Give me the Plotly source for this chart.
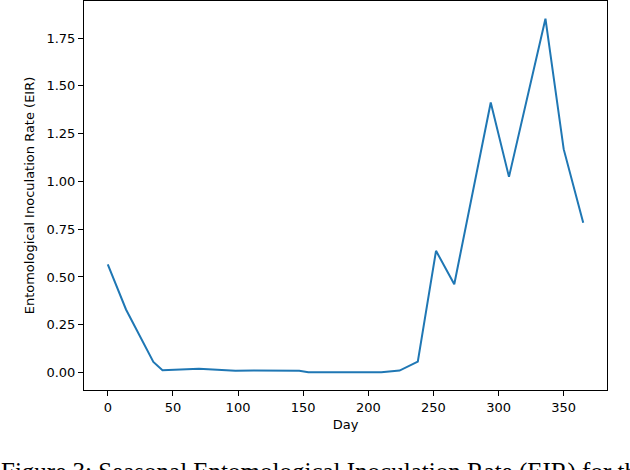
import plotly.graph_objects as go

# Seasonal EIR by day of year
DAYS = [0, 14, 35, 42, 70, 98, 112, 147, 154, 210, 224, 238,
        252, 266, 294, 308, 336, 350, 365]
EIR = [0.566, 0.330, 0.055, 0.012, 0.020, 0.009, 0.011, 0.009, 0.001, 0.002,
       0.010, 0.057, 0.637, 0.462, 1.413, 1.024, 1.852, 1.169, 0.784]

X_TICKS = [0, 50, 100, 150, 200, 250, 300, 350]
Y_TICKS = [0.0, 0.25, 0.5, 0.75, 1.0, 1.25, 1.5, 1.75]
CAPTION = "Figure 3: Seasonal Entomological Inoculation Rate (EIR) for the"

FONT = "DejaVu Sans"

fig = go.Figure()

fig.add_trace(go.Scatter(
    x=DAYS,
    y=EIR,
    mode="lines",
    line=dict(color="#1f77b4", width=2),
    showlegend=False,
))

# matplotlib-style 5% margins
xmin, xmax = min(DAYS), max(DAYS)
ymin, ymax = min(EIR), max(EIR)
xpad = (xmax - xmin) * 0.05
ypad = (ymax - ymin) * 0.05

axis_common = dict(
    showline=True, linecolor="black", linewidth=1, mirror=True,
    ticks="outside", ticklen=5, tickwidth=1, tickcolor="black",
    showgrid=False, zeroline=False,
    tickfont=dict(family=FONT, size=13, color="black"),
)

fig.update_xaxes(
    range=[xmin - xpad, xmax + xpad],
    tickvals=X_TICKS,
    title=dict(text="Day", font=dict(family=FONT, size=13, color="black"), standoff=6),
    **axis_common,
)
fig.update_yaxes(
    range=[ymin - ypad, ymax + ypad],
    tickvals=Y_TICKS,
    tickformat=".2f",
    title=dict(text="Entomological Inoculation Rate (EIR)",
               font=dict(family=FONT, size=13, color="black"), standoff=8),
    **axis_common,
)

# figure caption, partly below the page edge as in the source
fig.add_annotation(
    text=CAPTION,
    xref="paper", yref="paper",
    x=-0.163, y=-0.17,
    xanchor="left", yanchor="top",
    showarrow=False,
    font=dict(family="Liberation Serif", size=25, color="black"),
)

fig.update_layout(
    width=630, height=470,
    margin=dict(l=84, r=23, t=1, b=80),
    plot_bgcolor="white",
    paper_bgcolor="white",
)

fig.write_html(
    "out.html",
    config={"displayModeBar": False},
    post_script="document.body.style.margin='0';",
)
